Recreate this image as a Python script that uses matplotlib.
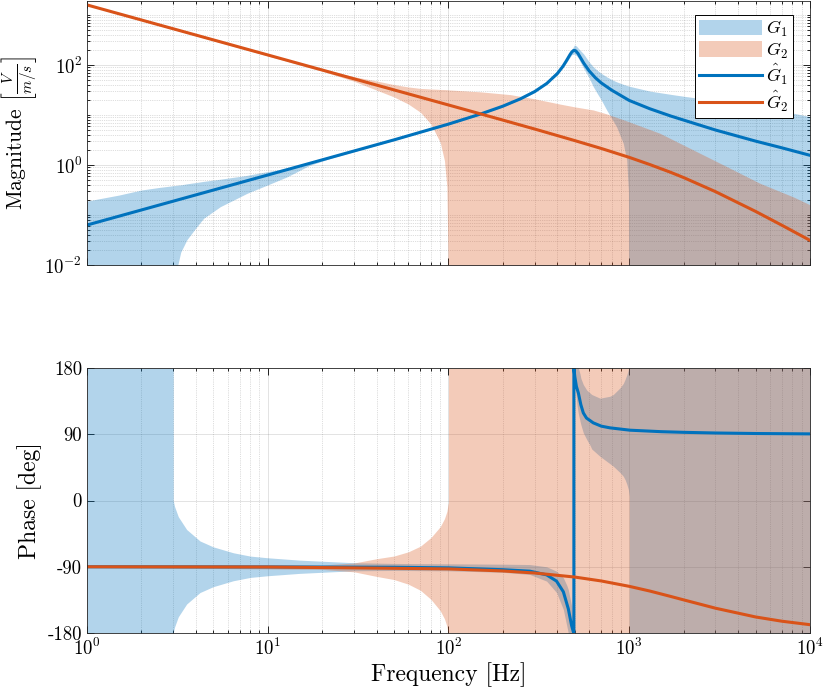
import matplotlib
matplotlib.use('Agg')
import matplotlib.pyplot as plt
from matplotlib.patches import Patch
from matplotlib.lines import Line2D
from matplotlib.ticker import LogLocator, NullFormatter, FixedLocator, FixedFormatter

plt.rcParams['font.family'] = 'serif'
plt.rcParams['font.serif'] = ['cmr10']
plt.rcParams['mathtext.fontset'] = 'cm'
plt.rcParams['axes.formatter.use_mathtext'] = True
plt.rcParams['axes.unicode_minus'] = False

# --- nominal magnitudes ---
g1_mag_f = [1, 10, 50, 100, 150, 200, 250, 300, 350, 400, 430, 450, 470, 480, 490, 497,
            505, 520, 540, 560, 600, 650, 700, 800, 1000, 1300, 1700, 2000, 3000, 5000, 7000, 10000]
g1_mag = [0.063, 0.63, 3.18, 6.57, 10.4, 15.0, 21.0, 29.4, 42.7, 67.2, 94.2, 122.7, 160.3, 179.5, 192.7, 195.7,
          191.8, 170.4, 135.7, 108.7, 76.2, 55.3, 43.7, 31.3, 19.5, 13.3, 9.5, 7.9, 5.0, 3.0, 2.2, 1.56]

g2_mag_f = [1, 10, 100, 200, 300, 500, 700, 1000, 1300, 1700, 2000, 3000, 5000, 7000, 10000]
g2_mag = [1585, 158.5, 15.83, 7.89, 5.23, 3.07, 2.14, 1.42, 1.02, 0.71, 0.56, 0.293, 0.118, 0.0622, 0.0311]

# --- nominal phases ---
g1_ph_f = [1, 10, 50, 100, 200, 282, 349, 396, 432, 460, 480, 490, 494, 494, 500, 510, 523, 540, 557, 580,
           632, 700, 782, 1010, 1500, 2000, 3000, 5000, 10000]
g1_ph = [-90, -90.2, -90.7, -91.5, -94, -96, -101, -109.5, -124, -147, -170, -178, -180, 180, 168, 155, 146, 130, 119, 112,
         105.5, 101, 98.7, 95.5, 93.5, 92.6, 91.7, 91, 90.5]

g2_ph_f = [1, 10, 100, 200, 300, 500, 700, 1000, 1300, 1700, 2000, 3000, 5000, 7000, 10000]
g2_ph = [-90.03, -90.3, -92.9, -95.7, -98.5, -104, -109.3, -116.6, -123, -130.4, -135, -146.3, -158.2, -164, -168.7]

# --- uncertainty bands, magnitude ---
g1_mb_f = [1, 1.5, 2, 2.5, 3, 3.18, 3.3, 3.57, 4, 4.42, 5.47, 7.68, 10, 12.8, 17, 22, 30, 50, 100, 200, 300, 400,
           450, 480, 497, 510, 523, 560, 600, 632, 661, 700, 750, 800, 851, 927, 968, 990, 1000, 1300, 1800, 2800,
           4300, 7000, 10000]
g1_mb_hi = [0.19, 0.25, 0.316, 0.355, 0.385, 0.395, 0.40, 0.42, 0.445, 0.47, 0.52, 0.62, 0.74, 0.86, 1.12, 1.43, 1.93,
            3.25, 6.75, 15.5, 30.5, 71, 132, 200, 250, 240, 215, 165, 115, 92, 80, 68, 58, 51, 46, 41, 39, 38, 37.5,
            30, 25, 20, 15.8, 12, 9.3]
g1_mb_lo = [1e-5, 1e-5, 1e-5, 1e-5, 1e-5, 0.01, 0.018, 0.032, 0.055, 0.086, 0.147, 0.271, 0.40, 0.58, 0.98, 1.34, 1.85,
            3.1, 6.35, 14.4, 28, 63, 112, 160, 165, 155, 136, 85, 55, 37, 28, 20, 12.6, 8.5, 5.8, 2.7, 1.26, 0.3, 1e-5,
            1e-5, 1e-5, 1e-5, 1e-5, 1e-5, 1e-5]

g2_mb_f = [1, 20, 30, 40, 50, 60, 70, 80, 90, 95, 98, 99.5, 100, 150, 220, 300, 414, 500, 632, 750, 968, 1479,
           2260, 3460, 5290, 8090, 10000]
g2_mb_hi = [1612, 83.3, 58.3, 47.8, 40.4, 36.3, 33.9, 33.0, 32.4, 32.2, 32.0, 31.8, 31.7, 29, 25.5, 21, 16.5, 14.5,
            12.6, 10.5, 7.6, 4.3, 2.0, 0.93, 0.43, 0.23, 0.16]
g2_mb_lo = [1558, 75.1, 47.3, 31.4, 22.9, 16.5, 11.3, 6.55, 2.83, 1.22, 0.36, 0.01, 1e-5, 1e-5, 1e-5, 1e-5, 1e-5,
            1e-5, 1e-5, 1e-5, 1e-5, 1e-5, 1e-5, 1e-5, 1e-5, 1e-5, 1e-5]

# --- uncertainty bands, phase ---
g1_pb_f = [1, 3, 3, 3.05, 3.2, 3.56, 4.22, 5, 6.45, 8, 10, 15, 23, 30, 50, 100, 200, 282, 349, 396, 432, 451, 460,
           480, 494, 494, 505, 515, 523, 534, 540, 557, 582, 607, 620, 689, 782, 816, 889, 927, 950, 970, 989, 1000,
           1000, 10000]
g1_pb_hi = [180, 180, 0, -8, -22, -39.4, -55, -63, -71, -75.5, -77.8, -81, -83.2, -84.5, -85.5, -86, -86.5, -87, -90,
            -96, -105, -115, -121, -143.5, -180, 180, 180, 180, 180, 172, 166, 157.5, 150, 146, 144, 139, 141.6, 144,
            153, 159, 165, 171, 178, 180, 180, 180]
g1_pb_lo = [-180, -180, -180, -172, -158, -140.6, -125, -117, -109, -104.5, -102.2, -99, -96.8, -95.5, -95, -95.5,
            -97.5, -100.5, -109.5, -125, -148, -170, -180, -180, -180, 178, 150, 128, 118, 108, 103, 92, 82.8, 75, 70,
            60, 50, 46.6, 38, 33, 28, 22, 15, 6, -180, -180]

g2_pb_f = [1, 20, 30, 40, 50, 60, 70, 80, 90, 95, 98, 99.5, 100, 100, 10000]
g2_pb_hi = [-89.2, -87.6, -84.9, -79.1, -75.4, -69.7, -62, -50.3, -35.6, -24.7, -14.8, -4.85, -2.9, 180, 180]
g2_pb_lo = [-90.8, -93.6, -96.9, -103.1, -107.4, -113.7, -122, -134.3, -149.6, -160.7, -170.8, -180, -180, -180, -180]

blue = (0, 0.447, 0.741)
orange = (0.85, 0.325, 0.098)

fig = plt.figure(figsize=(8.3, 7), dpi=100)
ax1 = fig.add_axes([0.1048, 0.6214, 0.8711, 0.3772])
ax2 = fig.add_axes([0.1048, 0.0957, 0.8711, 0.3786], sharex=ax1)

for ax in (ax1, ax2):
    ax.set_xscale('log')
    ax.set_axisbelow(True)
    ax.grid(True, which='major', color='#262626', alpha=0.15, lw=0.6, ls='-')
    ax.tick_params(which='both', direction='in', top=True, right=True, labelsize=13.5, width=0.6)
    ax.tick_params(which='major', length=5)
    ax.tick_params(which='minor', length=2.5)
    for s in ax.spines.values():
        s.set_linewidth(0.6)
        s.set_color('#262626')

# magnitude
ax1.set_yscale('log')
ax1.fill_between(g1_mb_f, g1_mb_lo, g1_mb_hi, color=blue, alpha=0.3, lw=0)
ax1.fill_between(g2_mb_f, g2_mb_lo, g2_mb_hi, color=orange, alpha=0.3, lw=0)
ax1.plot(g1_mag_f, g1_mag, color=blue, lw=2.2)
ax1.plot(g2_mag_f, g2_mag, color=orange, lw=2.2)
ax1.set_xlim(1, 1e4)
ax1.set_ylim(1e-2, 1.9e3)
ax1.yaxis.set_major_locator(FixedLocator([1e-2, 1, 1e2]))
ax1.yaxis.set_minor_locator(LogLocator(base=10, subs=range(1, 10), numticks=50))
ax1.yaxis.set_minor_formatter(NullFormatter())
ax1.grid(True, which='minor', color='#262626', alpha=0.3, lw=0.5, ls=':')
ax1.set_ylabel(r'Magnitude $\left[\frac{V}{m/s}\right]$', fontsize=15.5, labelpad=4)
plt.setp(ax1.get_xticklabels(), visible=False)

handles = [Patch(facecolor=blue, alpha=0.3, lw=0), Patch(facecolor=orange, alpha=0.3, lw=0),
           Line2D([], [], color=blue, lw=2.2), Line2D([], [], color=orange, lw=2.2)]
labels = [r'$G_1$', r'$G_2$', r'$\hat{G}_1$', r'$\hat{G}_2$']
leg = ax1.legend(handles, labels, loc='upper right', bbox_to_anchor=(0.976, 0.947), fontsize=13,
                 fancybox=False, framealpha=1, edgecolor='black', handlelength=3.5, handleheight=0.95,
                 borderpad=0.2, labelspacing=0.1, handletextpad=0.25, borderaxespad=0)
leg.get_frame().set_linewidth(0.7)

# phase
ax2.fill_between(g1_pb_f, g1_pb_lo, g1_pb_hi, color=blue, alpha=0.3, lw=0)
ax2.fill_between(g2_pb_f, g2_pb_lo, g2_pb_hi, color=orange, alpha=0.3, lw=0)
ax2.plot(g1_ph_f, g1_ph, color=blue, lw=2.2)
ax2.plot(g2_ph_f, g2_ph, color=orange, lw=2.2)
ax2.set_ylim(-180, 180)
ax2.yaxis.set_major_locator(FixedLocator([-180, -90, 0, 90, 180]))
ax2.yaxis.set_major_formatter(FixedFormatter(['-180', '-90', '0', '90', '180']))
ax2.xaxis.set_major_locator(LogLocator(base=10, numticks=10))
ax2.xaxis.set_minor_locator(LogLocator(base=10, subs=range(2, 10), numticks=50))
ax2.xaxis.set_minor_formatter(NullFormatter())
ax2.grid(True, which='minor', axis='x', color='#262626', alpha=0.3, lw=0.5, ls=':')
ax1.grid(True, which='minor', axis='x', color='#262626', alpha=0.3, lw=0.5, ls=':')
ax2.set_xlim(1, 1e4)
ax2.set_ylabel('Phase [deg]', fontsize=17, labelpad=4)
ax2.set_xlabel('Frequency [Hz]', fontsize=17, labelpad=2)

fig.savefig('out.png', dpi=100)
